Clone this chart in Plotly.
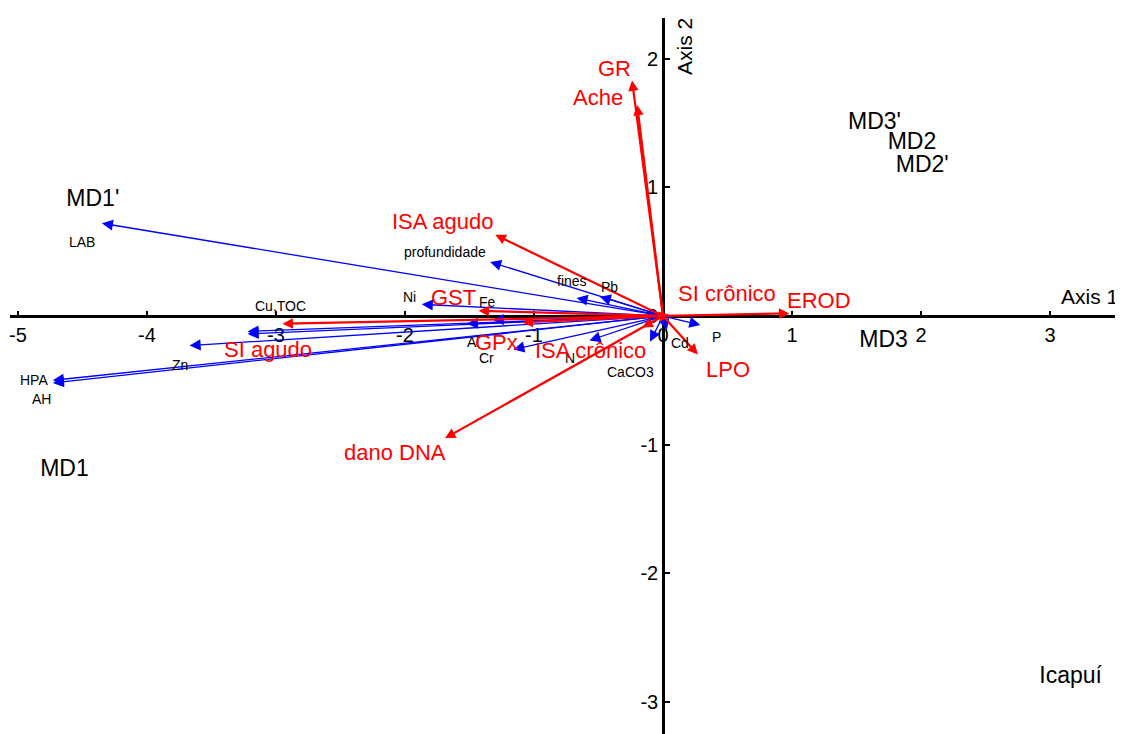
import plotly.graph_objects as go

# ---------------- data ----------------
# sites (scores)
site_names = ["MD1'", "MD1", "MD3'", "MD2", "MD2'", "MD3", "Icapuí"]
site_x = [-4.42, -4.64, 1.64, 1.93, 2.01, 1.71, 3.16]
site_y = [0.90, -1.20, 1.50, 1.34, 1.16, -0.20, -2.81]

# environmental variables (blue vectors)
env_names = ["LAB", "profundidade", "fines", "Pb", "Ni", "Fe", "Cu", "TOC", "Zn",
             "HPA", "AH", "Al", "Cr", "N", "CaCO3", "Cd", "P"]
env_x = [-4.35, -1.34, -0.67, -0.49, -1.87, -1.32, -3.22, -3.22, -3.67,
         -4.73, -4.73, -1.52, -1.16, -0.57, -0.10, 0.03, 0.29]
env_y = [0.72, 0.42, 0.14, 0.15, 0.09, -0.03, -0.12, -0.14, -0.23,
         -0.50, -0.52, -0.06, -0.26, -0.19, -0.20, -0.11, -0.07]
env_labels = ["LAB", "profundidade", "fines", "Pb", "Ni", "Fe", "Cu,TOC", "", "Zn",
              "HPA", "AH", "Al", "Cr", "N", "CaCO3", "Cd", "P"]

# biomarkers (red vectors)
bio_names = ["GR", "Ache", "ISA agudo", "GST", "SI agudo", "GPx", "ISA crônico",
             "dano DNA", "LPO", "EROD", "SI crônico"]
bio_x = [-0.24, -0.20, -1.30, -1.43, -2.95, -1.09, -0.16, -1.69, 0.27, 0.98, 0.05]
bio_y = [1.83, 1.64, 0.63, 0.04, -0.06, -0.05, -0.09, -0.95, -0.30, 0.02, 0.01]

x_ticks = [-5, -4, -3, -2, -1, 0, 1, 2, 3]
y_ticks = [-3, -2, -1, 0, 1, 2]
x_ticktext = ["-5", "-4", "-3", "-2", "-1", "0", "1", "2", "3"]
y_ticktext = ["-3", "-2", "-1", "0", "1", "2"]

# ---------------- styles ----------------
FONT = "Liberation Sans, Arial, sans-serif"
BLUE = "#0000FF"
RED = "#FF0000"

# label offsets in pixels (dx right, dy down) relative to arrow tips
env_off = {"LAB": (-20, 19), "profundidade": (-45, -10), "fines": (-5, -17), "Pb": (10, -10),
           "Ni": (-12, -7), "Fe": (-5, -18), "Cu": (33, -25), "TOC": (0, 0), "Zn": (-10, 19),
           "HPA": (-19, 0), "AH": (-11, 16), "Al": (6, 18), "Cr": (-27, 9), "N": (-19, 18),
           "CaCO3": (-20, 30), "Cd": (13, 13), "P": (16, 12)}
bio_off = {"GR": (-18, -12), "Ache": (-39, -7), "ISA agudo": (-52, -13), "GST": (-25, -13),
           "SI agudo": (-14, 26), "GPx": (-26, 20), "ISA crônico": (-52, 23),
           "dano DNA": (-50, 14), "LPO": (30, 15), "EROD": (30, -13), "SI crônico": (58, -21)}

xr = [-5.062, 3.566]
yr = [-3.248, 2.315]

fig = go.Figure()

annotations = []
# blue arrows
for n, x, y in zip(env_names, env_x, env_y):
    annotations.append(dict(x=x, y=y, ax=0, ay=0, xref="x", yref="y", axref="x", ayref="y",
                            text="", showarrow=True, arrowhead=2, arrowsize=1.7,
                            arrowwidth=1.3, arrowcolor=BLUE, standoff=0))
# red arrows
for n, x, y in zip(bio_names, bio_x, bio_y):
    annotations.append(dict(x=x, y=y, ax=0, ay=0, xref="x", yref="y", axref="x", ayref="y",
                            text="", showarrow=True, arrowhead=2, arrowsize=0.95,
                            arrowwidth=2.2, arrowcolor=RED, standoff=0))
# blue labels
for n, lab, x, y in zip(env_names, env_labels, env_x, env_y):
    if not lab:
        continue
    dx, dy = env_off[n]
    annotations.append(dict(x=x, y=y, xref="x", yref="y", text=lab, showarrow=False,
                            xshift=dx, yshift=-dy, font=dict(family=FONT, size=14, color="black")))
# red labels
for n, x, y in zip(bio_names, bio_x, bio_y):
    dx, dy = bio_off[n]
    annotations.append(dict(x=x, y=y, xref="x", yref="y", text=n, showarrow=False,
                            xshift=dx, yshift=-dy, font=dict(family=FONT, size=22, color=RED)))
# axis titles
annotations.append(dict(x=xr[1], y=0, xref="x", yref="y", text="Axis 1", showarrow=False,
                        xanchor="right", yanchor="bottom", xshift=-3, yshift=6,
                        font=dict(family=FONT, size=21, color="black")))
annotations.append(dict(x=0, y=yr[1], xref="x", yref="y", text="Axis 2", showarrow=False,
                        textangle=-90, xanchor="left", yanchor="top", xshift=8, yshift=2,
                        font=dict(family=FONT, size=21, color="black")))

fig.add_trace(go.Scatter(x=site_x, y=site_y, mode="text", text=site_names,
                         textfont=dict(family=FONT, size=23, color="black"),
                         hoverinfo="text", showlegend=False))

xpos = (0 - yr[0]) / (yr[1] - yr[0])
ypos = (0 - xr[0]) / (xr[1] - xr[0])

# the page body has an 8px margin, so the figure is 8px smaller than the window
fig.update_layout(
    width=1115, height=726, autosize=False,
    margin=dict(l=2, r=0, t=10, b=0, pad=0),
    paper_bgcolor="white", plot_bgcolor="white",
    showlegend=False,
    annotations=annotations,
    xaxis=dict(range=xr, anchor="free", position=xpos, showline=True, linecolor="black",
               linewidth=2.5, showgrid=False, zeroline=False, ticks="inside", ticklen=4,
               tickwidth=2, tickcolor="black", tickvals=x_ticks, ticktext=x_ticktext,
               tickfont=dict(family=FONT, size=20, color="black"), mirror=False,
               fixedrange=True),
    yaxis=dict(range=yr, anchor="free", position=ypos, showline=True, linecolor="black",
               linewidth=2.5, showgrid=False, zeroline=False, ticks="inside", ticklen=5,
               tickwidth=2, tickcolor="black", tickvals=y_ticks, ticktext=y_ticktext,
               tickfont=dict(family=FONT, size=20, color="black"), mirror=False,
               fixedrange=True),
)

fig.write_html("out.html")
